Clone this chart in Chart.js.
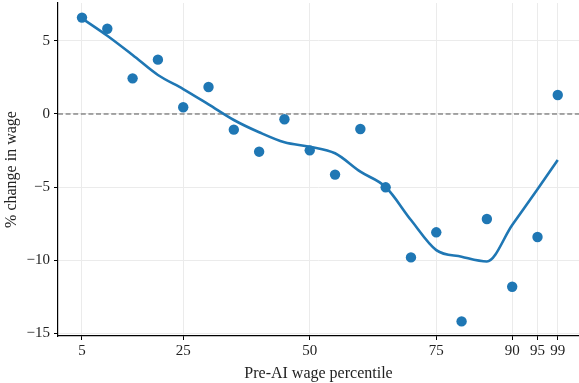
<!DOCTYPE html>
<html>
<head>
<meta charset="utf-8">
<script src="https://cdn.jsdelivr.net/npm/chart.js@4/dist/chart.umd.min.js"></script>
<style>
  html, body { margin: 0; padding: 0; background: #ffffff; }
  #wrap { width: 579px; height: 383px; }
</style>
</head>
<body>
<div id="wrap"><canvas id="c" width="579" height="383"></canvas></div>
<script>
// Pre-AI wage percentile bins
const percentiles = [5, 10, 15, 20, 25, 30, 35, 40, 45, 50, 55, 60, 65, 70, 75, 80, 85, 90, 95, 99];
// Observed % change in wage per bin
const observed = [6.6, 5.84, 2.44, 3.72, 0.46, 1.85, -1.07, -2.58, -0.36, -2.49,
                  -4.15, -1.03, -5.02, -9.82, -8.10, -14.2, -7.19, -11.83, -8.42, 1.30];
// Smoothed fit through the bins
const smoothed = [6.55, 5.36, 4.04, 2.67, 1.71, 0.66, -0.41, -1.25, -1.94, -2.24,
                  -2.69, -3.95, -5.0, -7.26, -9.32, -9.77, -10.1, -7.6, -5.16, -3.15];
// Axis tick labels
const xTickValues = [5, 25, 50, 75, 90, 95, 99];
const yTickValues = [-15, -10, -5, 0, 5];

const BLUE = '#1f77b4';
const FONT = "'Liberation Serif', 'DejaVu Serif', serif";

const toPoints = (xs, ys) => xs.map((x, i) => ({ x: x, y: ys[i] }));

// Dashed reference line at zero, drawn beneath the data
const zeroLine = {
  id: 'zeroLine',
  beforeDatasetsDraw(chart) {
    const { ctx, chartArea, scales } = chart;
    const y = scales.y.getPixelForValue(0);
    ctx.save();
    ctx.strokeStyle = '#555555';
    ctx.lineWidth = 1.1;
    ctx.setLineDash([5, 2.6]);
    ctx.beginPath();
    ctx.moveTo(chartArea.left, y);
    ctx.lineTo(chartArea.right, y);
    ctx.stroke();
    ctx.restore();
  }
};

const minus = v => (v < 0 ? '\u2212' + Math.abs(v) : String(v));

// Fixed axis box sizes; labels may overhang the plot edges
const noPad = s => { s.paddingTop = 0; s.paddingBottom = 0; s.paddingLeft = 0; s.paddingRight = 0; };

new Chart(document.getElementById('c'), {
  type: 'scatter',
  data: {
    datasets: [
      {
        label: 'smoothed',
        data: toPoints(percentiles, smoothed),
        showLine: true,
        borderColor: BLUE,
        borderWidth: 2.6,
        pointRadius: 0,
        cubicInterpolationMode: 'monotone',
        clip: false,
        order: 1
      },
      {
        label: 'observed',
        data: toPoints(percentiles, observed),
        showLine: false,
        backgroundColor: BLUE,
        borderColor: BLUE,
        borderWidth: 0,
        pointRadius: 5.2,
        clip: false,
        order: 2
      }
    ]
  },
  options: {
    responsive: false,
    animation: false,
    layout: { autoPadding: false, padding: { top: 3, right: 0, bottom: 0, left: 0 } },
    plugins: { legend: { display: false }, tooltip: { enabled: false } },
    scales: {
      x: {
        type: 'linear',
        min: 0.26,
        max: 103.2,
        afterBuildTicks: s => { s.ticks = xTickValues.map(v => ({ value: v })); },
        afterFit: s => { s.height = 47; noPad(s); },
        ticks: {
          color: '#222222',
          font: { family: FONT, size: 15 },
          padding: 2,
          maxRotation: 0,
          autoSkip: false,
          callback: v => minus(v)
        },
        grid: { color: '#ebebeb', lineWidth: 1, tickColor: '#000000', tickLength: 4 },
        border: { color: '#000000', width: 1.2 },
        title: {
          display: true,
          text: 'Pre-AI wage percentile',
          color: '#222222',
          font: { family: FONT, size: 16 },
          padding: { top: 0, bottom: 0 }
        }
      },
      y: {
        type: 'linear',
        min: -15.2,
        max: 7.6,
        afterBuildTicks: s => { s.ticks = yTickValues.map(v => ({ value: v })); },
        afterFit: s => { s.width = 58; noPad(s); },
        ticks: {
          color: '#222222',
          font: { family: FONT, size: 15 },
          padding: 4,
          callback: v => minus(v)
        },
        grid: { color: '#ebebeb', lineWidth: 1, tickColor: '#000000', tickLength: 4 },
        border: { color: '#000000', width: 1.2 },
        title: {
          display: true,
          text: '% change in wage',
          color: '#222222',
          font: { family: FONT, size: 16 },
          padding: { top: 2, bottom: 0 }
        }
      }
    }
  },
  plugins: [zeroLine]
});
</script>
</body>
</html>
